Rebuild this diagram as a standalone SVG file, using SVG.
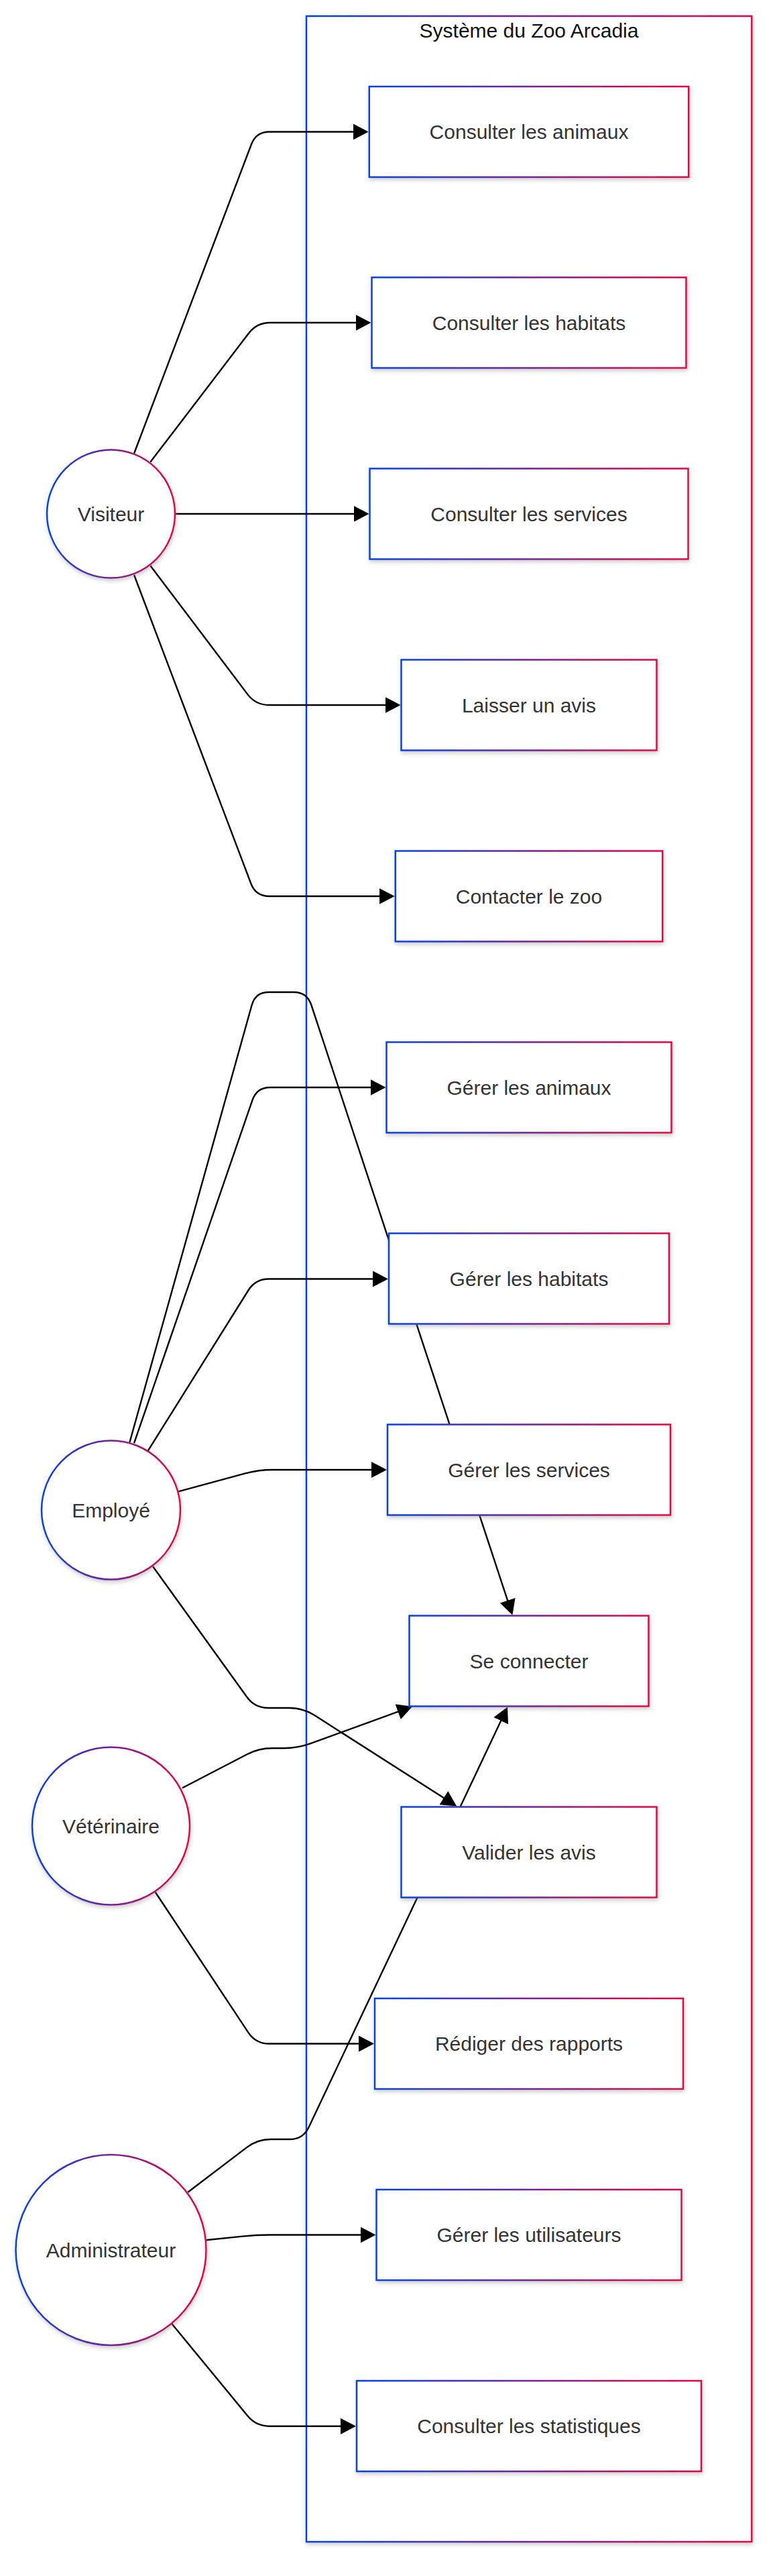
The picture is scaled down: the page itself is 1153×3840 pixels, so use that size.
<svg xmlns="http://www.w3.org/2000/svg" width="1153" height="3840" viewBox="0 0 1153 3840">
<defs>
<linearGradient id="grad" x1="0" y1="0" x2="1" y2="0">
<stop offset="0" stop-color="#0042eb"/>
<stop offset="1" stop-color="#eb0042"/>
</linearGradient>
<filter id="sh" x="-10%" y="-10%" width="130%" height="130%">
<feDropShadow dx="1" dy="3" stdDeviation="3" flood-color="#888" flood-opacity="0.45"/>
</filter>
<marker id="arr" markerUnits="userSpaceOnUse" markerWidth="24" markerHeight="24" viewBox="0 0 24 24" refX="19" refY="12" orient="auto">
<path d="M0,0 L23,12 L0,24 z" fill="#000"/>
</marker>
</defs>
<style>
.frame{fill:#fff;stroke:url(#grad);stroke-width:2.5;filter:url(#sh)}
.node rect,.node circle{fill:#fff;stroke:url(#grad);stroke-width:2.5;filter:url(#sh)}
.node text{font-family:"Liberation Sans",Arial,sans-serif;font-size:30px;fill:#333;text-anchor:middle}
.title{font-family:"Liberation Sans",Arial,sans-serif;font-size:30px;fill:#111;text-anchor:middle}
.edges path{fill:none;stroke:#000;stroke-width:2.4;marker-end:url(#arr)}
</style>
<rect width="1153" height="3840" fill="#fff"/>
<g id="cluster">
<rect class="frame" x="457" y="24" width="664.3" height="3765"/>
<text class="title" x="789" y="56">Système du Zoo Arcadia</text>
</g>
<g class="edges" id="edges">
<path d="M200,676 L374.9,215.2 Q382,196.5 402,196.5 L545.75,196.5"/>
<path d="M224.3,688.8 L370.9,496.9 Q383,481 403,481 L549.5,481"/>
<path d="M261,766 L546.5,766"/>
<path d="M224.3,843.3 L369.4,1035.1 Q381.5,1051 401.5,1051 L593.5,1051"/>
<path d="M200,857 L374.4,1317.3 Q381.5,1336 401.5,1336 L584.75,1336"/>
<path d="M193.4,2150 L375.6,1498.3 Q381,1479 401,1479 L438,1479 Q458,1479 464.3,1498 L763.1,2403.8"/>
<path d="M200,2151.3 L376.5,1639.9 Q383,1621 403,1621 L571.5,1621"/>
<path d="M220.6,2162.8 L370.4,1923.5 Q381,1906.5 401,1906.5 L575,1906.5"/>
<path d="M266.2,2223.3 L366.7,2196.2 Q386,2191 406,2191 L573,2191"/>
<path d="M228,2335 L368.3,2529.8 Q380,2546 400,2546 L432,2546 Q452,2546 468.9,2556.8 L677.8,2690.3"/>
<path d="M272,2665.2 L368.3,2615.2 Q386,2606 406,2606 L424,2606 Q444,2606 462.8,2599.2 L611.5,2545.2"/>
<path d="M231.6,2820.5 L370.4,3029.8 Q381.5,3046.5 401.5,3046.5 L554,3046.5"/>
<path d="M280.1,3268 L368.1,3201.1 Q384,3189 404,3189 L432,3189 Q452,3189 460.6,3170.9 L755.3,2548"/>
<path d="M307.4,3339.3 L362.1,3333.6 Q382,3331.5 402,3331.5 L556.5,3331.5"/>
<path d="M255.9,3463.4 L369.3,3601.3 Q382,3616.7 402,3616.7 L527,3616.7"/>
</g>
<g class="node" id="visiteur"><circle cx="165.5" cy="766" r="95.5"/><text x="165.5" y="776.5">Visiteur</text></g>
<g class="node" id="employe"><circle cx="165.5" cy="2251" r="103.5"/><text x="165.5" y="2261.5">Employé</text></g>
<g class="node" id="veterinaire"><circle cx="165.5" cy="2722" r="117.5"/><text x="165.5" y="2732.5">Vétérinaire</text></g>
<g class="node" id="administrateur"><circle cx="165.5" cy="3354" r="142"/><text x="165.5" y="3364.5">Administrateur</text></g>
<g class="node" id="consulter-animaux"><rect x="550.75" y="129" width="476.5" height="135"/><text x="789" y="207">Consulter les animaux</text></g>
<g class="node" id="consulter-habitats"><rect x="554.5" y="413.5" width="469" height="135"/><text x="789" y="491.5">Consulter les habitats</text></g>
<g class="node" id="consulter-services"><rect x="551.5" y="698.5" width="475" height="135"/><text x="789" y="776.5">Consulter les services</text></g>
<g class="node" id="laisser-avis"><rect x="598.5" y="983.5" width="381" height="135"/><text x="789" y="1061.5">Laisser un avis</text></g>
<g class="node" id="contacter-zoo"><rect x="589.75" y="1268.5" width="398.5" height="135"/><text x="789" y="1346.5">Contacter le zoo</text></g>
<g class="node" id="gerer-animaux"><rect x="576.5" y="1553.5" width="425" height="135"/><text x="789" y="1631.5">Gérer les animaux</text></g>
<g class="node" id="gerer-habitats"><rect x="580" y="1838.5" width="418" height="135"/><text x="789" y="1916.5">Gérer les habitats</text></g>
<g class="node" id="gerer-services"><rect x="578" y="2123.5" width="422" height="135"/><text x="789" y="2201.5">Gérer les services</text></g>
<g class="node" id="se-connecter"><rect x="610.5" y="2408.5" width="357" height="135"/><text x="789" y="2486.5">Se connecter</text></g>
<g class="node" id="valider-avis"><rect x="598.5" y="2693.5" width="381" height="135"/><text x="789" y="2771.5">Valider les avis</text></g>
<g class="node" id="rediger-rapports"><rect x="559" y="2979" width="460" height="135"/><text x="789" y="3057">Rédiger des rapports</text></g>
<g class="node" id="gerer-utilisateurs"><rect x="561.5" y="3264" width="455" height="135"/><text x="789" y="3342">Gérer les utilisateurs</text></g>
<g class="node" id="consulter-statistiques"><rect x="532" y="3549" width="514" height="135"/><text x="789" y="3627">Consulter les statistiques</text></g>
</svg>
